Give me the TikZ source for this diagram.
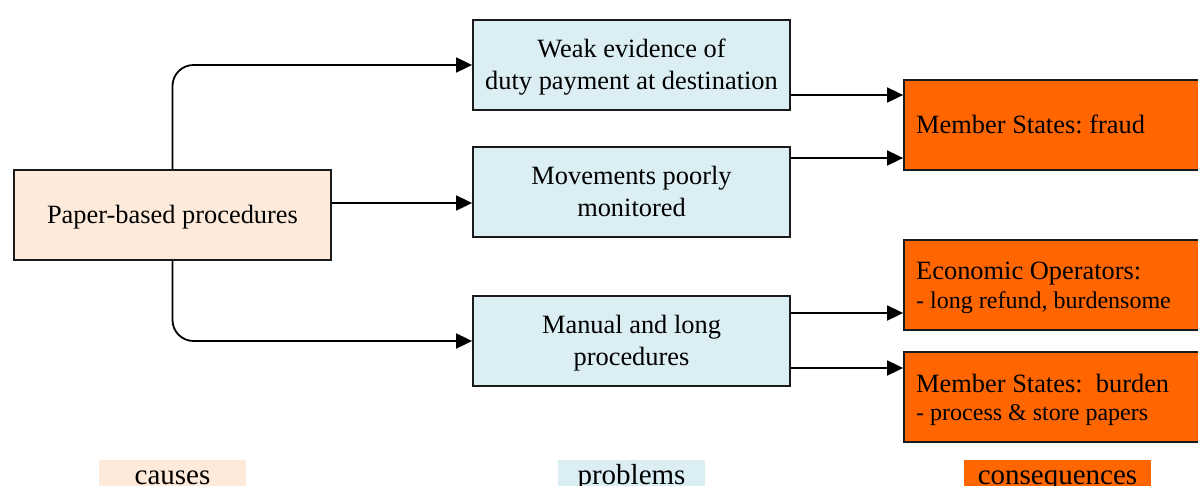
\documentclass[tikz,border=0pt]{standalone}
\usepackage{fontspec}
\setmainfont{Liberation Serif}
\usetikzlibrary{arrows.meta}
\definecolor{peach}{HTML}{FDEADA}
\definecolor{lblue}{HTML}{DAEEF3}
\definecolor{orng}{HTML}{FF6600}
\definecolor{edge}{HTML}{1A1A1A}
\begin{document}
\frenchspacing
\begin{tikzpicture}[x=1pt,y=-1pt,
  box/.style={draw=edge, line width=1.8pt, minimum width=317pt, minimum height=90pt, inner sep=0pt},
  cause/.style={box, fill=peach},
  problem/.style={box, fill=lblue},
  conseq/.style={draw=edge, fill=orng, line width=1.8pt, minimum width=300pt, minimum height=90pt, inner sep=0pt},
  txt/.style={inner sep=0pt, font=\fontsize{26.4}{31}\selectfont},
  ctxt/.style={txt, anchor=base},
  ltxt/.style={txt, anchor=base west},
  stxt/.style={inner sep=0pt, anchor=base west, font=\fontsize{24}{29}\selectfont},
  conn/.style={draw=black, line width=1.8pt, -{Triangle[length=16pt,width=15pt]}},
  leg/.style={inner sep=0pt, minimum height=48pt, text height=24pt, text depth=24pt,
    font=\fontsize{29}{33}\selectfont}
]
\useasboundingbox (0,0) rectangle (1198,485);

\node[cause] (paper) at (172.5,215) {};
\node[problem] (weak) at (631.5,65) {};
\node[problem] (moves) at (631.5,192) {};
\node[problem] (manual) at (631.5,341) {};
\node[conseq] (fraud) at (1054,125) {};
\node[conseq] (eo) at (1054,285) {};
\node[conseq] (burden) at (1054,397) {};

\node[ctxt] (t1) at (172.5,223) {Paper-based procedures};
\node[ctxt] (t2) at (631.5,57) {Weak evidence of};
\node[ctxt] (t3) at (631.5,89) {duty payment at destination};
\node[ctxt] (t4) at (631.5,184) {Movements poorly};
\node[ctxt] (t5) at (631.5,216) {monitored};
\node[ctxt] (t6) at (631.5,333) {Manual and long};
\node[ctxt] (t7) at (631.5,365) {procedures};
\node[ltxt] (t8) at (916,133) {Member States: fraud};
\node[ltxt] (t9) at (916,279) {Economic Operators:};
\node[stxt] (t10) at (916,308) {- long refund, burdensome};
\node[ltxt] (t11) at (916,392) {Member States:~ burden};
\node[stxt] (t12) at (916,420) {- process \& store papers};

\coordinate (ya) at (0,203);
\coordinate (yb) at (0,95);
\coordinate (yc) at (0,158);
\coordinate (yd) at (0,313);
\coordinate (ye) at (0,368);

\draw[conn, rounded corners=21pt] (paper.north) |- (weak.west);
\draw[conn] (paper.east |- ya) -- (moves.west |- ya);
\draw[conn, rounded corners=21pt] (paper.south) |- (manual.west);
\draw[conn] (weak.east |- yb) -- (fraud.west |- yb);
\draw[conn] (moves.east |- yc) -- (fraud.west |- yc);
\draw[conn] (manual.east |- yd) -- (eo.west |- yd);
\draw[conn] (manual.east |- ye) -- (burden.west |- ye);

\node[leg, fill=peach, minimum width=147pt] (lcause) at (172.5,484) {causes};
\node[leg, fill=lblue, minimum width=147pt] (lprob) at (631.5,484) {problems};
\node[leg, fill=orng, minimum width=187pt] (lcons) at (1057.5,484) {consequences};
\end{tikzpicture}
\end{document}
